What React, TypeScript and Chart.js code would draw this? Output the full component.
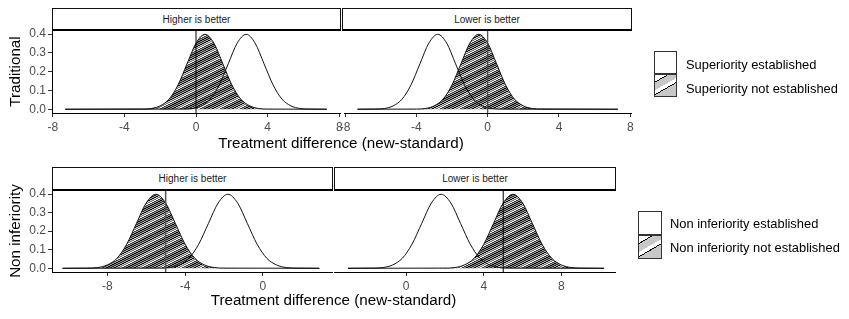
import React, { useEffect, useRef } from "react";
import { Chart, registerables } from "chart.js";
Chart.register(...registerables);

const W = 849;
const H = 319;

// Shared density profile (one value per point of every curve)
const DENSITY = [0, 0.001, 0.004, 0.018, 0.054, 0.13, 0.242, 0.352, 0.399, 0.352, 0.242, 0.13, 0.054, 0.018, 0.004, 0.001, 0];

// Traditional (superiority) — Higher is better
const TRAD_HIGHER_NOT_X = [-7.3, -3, -2.5, -2, -1.5, -1, -0.5, 0, 0.5, 1, 1.5, 2, 2.5, 3, 3.5, 4, 7.3];
const TRAD_HIGHER_EST_X = [-7.3, -0.7, -0.2, 0.3, 0.8, 1.3, 1.8, 2.3, 2.8, 3.3, 3.8, 4.3, 4.8, 5.3, 5.8, 6.3, 7.3];
// Traditional — Lower is better
const TRAD_LOWER_NOT_X = [-7.3, -4, -3.5, -3, -2.5, -2, -1.5, -1, -0.5, 0, 0.5, 1, 1.5, 2, 2.5, 3, 7.3];
const TRAD_LOWER_EST_X = [-7.3, -6.3, -5.8, -5.3, -4.8, -4.3, -3.8, -3.3, -2.8, -2.3, -1.8, -1.3, -0.8, -0.3, 0.2, 0.7, 7.3];
// Non inferiority — Higher is better
const NI_HIGHER_NOT_X = [-10.3, -9, -8.5, -8, -7.5, -7, -6.5, -6, -5.5, -5, -4.5, -4, -3.5, -3, -2.5, -2, 2.9];
const NI_HIGHER_EST_X = [-10.3, -5.3, -4.8, -4.3, -3.8, -3.3, -2.8, -2.3, -1.8, -1.3, -0.8, -0.3, 0.2, 0.7, 1.2, 1.7, 2.9];
// Non inferiority — Lower is better
const NI_LOWER_NOT_X = [-3, 2, 2.5, 3, 3.5, 4, 4.5, 5, 5.5, 6, 6.5, 7, 7.5, 8, 8.5, 9, 10.2];
const NI_LOWER_EST_X = [-3, -1.7, -1.2, -0.7, -0.2, 0.3, 0.8, 1.3, 1.8, 2.3, 2.8, 3.3, 3.8, 4.3, 4.8, 5.3, 10.2];

const TRAD_BOUNDARY = 0;
const NI_HIGHER_BOUNDARY = -5;
const NI_LOWER_BOUNDARY = 5;

const Y_TICKS = [0, 0.1, 0.2, 0.3, 0.4];
const TOP_X_TICKS = [-8, -4, 0, 4, 8];
const NI_HIGHER_X_TICKS = [-8, -4, 0];
const NI_LOWER_X_TICKS = [0, 4, 8];

const Y_MIN = -0.02;
const Y_MAX = 0.422;

const STRIP_LABELS = ["Higher is better", "Lower is better"];
const ROW_TITLES = ["Traditional", "Non inferiority"];
const X_TITLE = "Treatment difference (new-standard)";
const LEGEND_TOP = ["Superiority established", "Superiority not established"];
const LEGEND_BOTTOM = ["Non inferiority established", "Non inferiority not established"];

// Hatch band shades (grey levels of the stripe pattern rows)
const HATCH_SHADES = [0, 130, 40, 165, 10, 200, 120, 245, 60, 150];

const FONT = "'Liberation Sans', Arial, Helvetica, sans-serif";
const TICK_COLOR = "#4D4D4D";

type Panel = {
  area: { left: number; right: number; top: number; bottom: number };
  xMin: number;
  xMax: number;
  xTicks: number[];
  showY: boolean;
  yTitle: string;
  notX: number[];
  estX: number[];
  boundary: number;
  vColor: string;
  vWidth: number;
};

const PANELS: Panel[] = [
  { area: { left: 52, right: 340, top: 30, bottom: 113 }, xMin: -8.04, xMax: 8.04, xTicks: TOP_X_TICKS, showY: true, yTitle: ROW_TITLES[0], notX: TRAD_HIGHER_NOT_X, estX: TRAD_HIGHER_EST_X, boundary: TRAD_BOUNDARY, vColor: "#000", vWidth: 1 },
  { area: { left: 344, right: 631, top: 30, bottom: 113 }, xMin: -8.06, xMax: 8.04, xTicks: TOP_X_TICKS, showY: false, yTitle: "", notX: TRAD_LOWER_NOT_X, estX: TRAD_LOWER_EST_X, boundary: TRAD_BOUNDARY, vColor: "#444", vWidth: 1.2 },
  { area: { left: 52, right: 332, top: 190, bottom: 272 }, xMin: -10.84, xMax: 3.55, xTicks: NI_HIGHER_X_TICKS, showY: true, yTitle: ROW_TITLES[1], notX: NI_HIGHER_NOT_X, estX: NI_HIGHER_EST_X, boundary: NI_HIGHER_BOUNDARY, vColor: "#555", vWidth: 1.5 },
  { area: { left: 334, right: 615, top: 190, bottom: 272 }, xMin: -3.72, xMax: 10.76, xTicks: NI_LOWER_X_TICKS, showY: false, yTitle: "", notX: NI_LOWER_NOT_X, estX: NI_LOWER_EST_X, boundary: NI_LOWER_BOUNDARY, vColor: "#000", vWidth: 1 },
];

const X_AXIS_H = 22;
const Y_AXIS_W = 45;

function makePattern(): CanvasPattern | string {
  const tile = document.createElement("canvas");
  const period = HATCH_SHADES.length;
  const tw = period * 2;
  const th = period;
  tile.width = tw;
  tile.height = th;
  const c = tile.getContext("2d");
  if (!c) return "#888";
  const img = c.createImageData(tw, th);
  for (let y = 0; y < th; y++) {
    for (let x = 0; x < tw; x++) {
      const idx = (((y + Math.floor(x / 2)) % period) + period) % period;
      const g = HATCH_SHADES[idx];
      const o = (y * tw + x) * 4;
      img.data[o] = g;
      img.data[o + 1] = g;
      img.data[o + 2] = g;
      img.data[o + 3] = 255;
    }
  }
  c.putImageData(img, 0, 0);
  const ctx = document.createElement("canvas").getContext("2d");
  const p = ctx ? ctx.createPattern(tile, "repeat") : null;
  return p || "#888";
}

function PanelChart({ panel }: { panel: Panel }) {
  const ref = useRef<HTMLCanvasElement | null>(null);
  useEffect(() => {
    if (!ref.current) return;
    const pattern = makePattern();
    const a = panel.area;
    const padLeft = panel.showY ? a.left - Y_AXIS_W : a.left;
    const chart = new Chart(ref.current, {
      type: "line",
      data: {
        datasets: [
          {
            data: [
              { x: panel.boundary, y: Y_MIN },
              { x: panel.boundary, y: Y_MAX },
            ],
            borderColor: panel.vColor,
            borderWidth: panel.vWidth,
            pointRadius: 0,
            fill: false,
          },
          {
            data: panel.estX.map((x, i) => ({ x, y: DENSITY[i] })),
            borderColor: "#111",
            borderWidth: 1,
            pointRadius: 0,
            fill: false,
            cubicInterpolationMode: "monotone",
          },
          {
            data: panel.notX.map((x, i) => ({ x, y: DENSITY[i] })),
            borderColor: "#111",
            borderWidth: 1,
            pointRadius: 0,
            backgroundColor: pattern as any,
            fill: "origin",
            cubicInterpolationMode: "monotone",
          },
        ],
      },
      options: {
        animation: false,
        responsive: false,
        devicePixelRatio: 1,
        layout: {
          padding: {
            left: padLeft,
            right: W - a.right,
            top: a.top,
            bottom: H - a.bottom - X_AXIS_H,
          },
        },
        plugins: { legend: { display: false }, tooltip: { enabled: false } },
        scales: {
          x: {
            type: "linear",
            min: panel.xMin,
            max: panel.xMax,
            afterBuildTicks: (s: any) => {
              s.ticks = panel.xTicks.map((v) => ({ value: v }));
            },
            afterFit: (s: any) => {
              s.height = X_AXIS_H;
            },
            grid: { display: true, drawOnChartArea: false, drawTicks: true, tickLength: 4, color: "#333", lineWidth: 1 },
            border: { display: true, color: "#000", width: 1 },
            ticks: {
              padding: 3,
              color: TICK_COLOR,
              font: { family: FONT, size: 12 },
              maxRotation: 0,
              autoSkip: false,
              callback: (v: any) => String(v),
            },
          },
          y: {
            display: panel.showY,
            min: Y_MIN,
            max: Y_MAX,
            afterBuildTicks: (s: any) => {
              s.ticks = Y_TICKS.map((v) => ({ value: v }));
            },
            afterFit: (s: any) => {
              s.width = panel.showY ? Y_AXIS_W : 0;
            },
            grid: { display: true, drawOnChartArea: false, drawTicks: true, tickLength: 4, color: "#333", lineWidth: 1 },
            border: { display: true, color: "#000", width: 1 },
            ticks: {
              padding: 2,
              color: TICK_COLOR,
              font: { family: FONT, size: 12 },
              autoSkip: false,
              callback: (v: any) => Number(v).toFixed(1),
            },
            title: {
              display: panel.showY,
              text: panel.yTitle,
              color: "#000",
              padding: 0,
              font: { family: FONT, size: 15.2 },
            },
          },
        },
      },
    });
    return () => chart.destroy();
  }, [panel]);
  return (
    <canvas
      ref={ref}
      width={W}
      height={H}
      style={{ position: "absolute", left: 0, top: 0, width: W, height: H }}
    />
  );
}

function Strip({ left, right, top, bottom, text }: { left: number; right: number; top: number; bottom: number; text: string }) {
  return (
    <div
      style={{
        position: "absolute",
        left,
        top,
        width: right - left,
        height: bottom - top,
        boxSizing: "border-box",
        border: "1px solid #111",
        borderBottom: "2px solid #000",
        background: "#fff",
        display: "flex",
        alignItems: "center",
        justifyContent: "center",
        fontFamily: FONT,
        fontSize: 10,
        color: "#1A1A1A",
      }}
    >
      {text}
    </div>
  );
}

function LegendKey({ left, top, w, h, hatched }: { left: number; top: number; w: number; h: number; hatched: boolean }) {
  return (
    <div
      style={{
        position: "absolute",
        left,
        top,
        width: w,
        height: h,
        boxSizing: "border-box",
        border: "1px solid #333",
        background: hatched
          ? "linear-gradient(150deg, #fff 0%, #fff 20%, #000 20%, #000 23%, #c8c8c8 23%, #c8c8c8 46%, #fff 46%, #fff 58%, #000 58%, #000 61%, #c8c8c8 61%, #c8c8c8 100%)"
          : "#fff",
      }}
    />
  );
}

function LegendText({ left, cy, text }: { left: number; cy: number; text: string }) {
  return (
    <div
      style={{
        position: "absolute",
        left,
        top: cy - 8,
        height: 16,
        lineHeight: "16px",
        fontFamily: FONT,
        fontSize: 12.9,
        color: "#000",
        whiteSpace: "nowrap",
      }}
    >
      {text}
    </div>
  );
}

function XTitle({ cx, cy }: { cx: number; cy: number }) {
  return (
    <div
      style={{
        position: "absolute",
        left: cx - 200,
        width: 400,
        top: cy - 10,
        height: 20,
        lineHeight: "20px",
        textAlign: "center",
        fontFamily: FONT,
        fontSize: 15.2,
        color: "#000",
      }}
    >
      {X_TITLE}
    </div>
  );
}

export default function App() {
  return (
    <div style={{ position: "absolute", left: 0, top: 0, width: W, height: H, background: "#fff", overflow: "hidden" }}>
      {PANELS.map((p, i) => (
        <PanelChart key={i} panel={p} />
      ))}
      <Strip left={52} right={341} top={8} bottom={31} text={STRIP_LABELS[0]} />
      <Strip left={342} right={632} top={8} bottom={31} text={STRIP_LABELS[1]} />
      <Strip left={52} right={333} top={167} bottom={191} text={STRIP_LABELS[0]} />
      <Strip left={334} right={616} top={167} bottom={191} text={STRIP_LABELS[1]} />
      <XTitle cx={341} cy={143} />
      <XTitle cx={333.5} cy={300} />
      <LegendKey left={654} top={51} w={23} h={23} hatched={false} />
      <LegendKey left={654} top={74} w={23} h={23} hatched={true} />
      <LegendText left={686} cy={65} text={LEGEND_TOP[0]} />
      <LegendText left={686} cy={89} text={LEGEND_TOP[1]} />
      <LegendKey left={638} top={211} w={24} h={24} hatched={false} />
      <LegendKey left={638} top={235} w={24} h={24} hatched={true} />
      <LegendText left={670} cy={224} text={LEGEND_BOTTOM[0]} />
      <LegendText left={670} cy={248} text={LEGEND_BOTTOM[1]} />
    </div>
  );
}
